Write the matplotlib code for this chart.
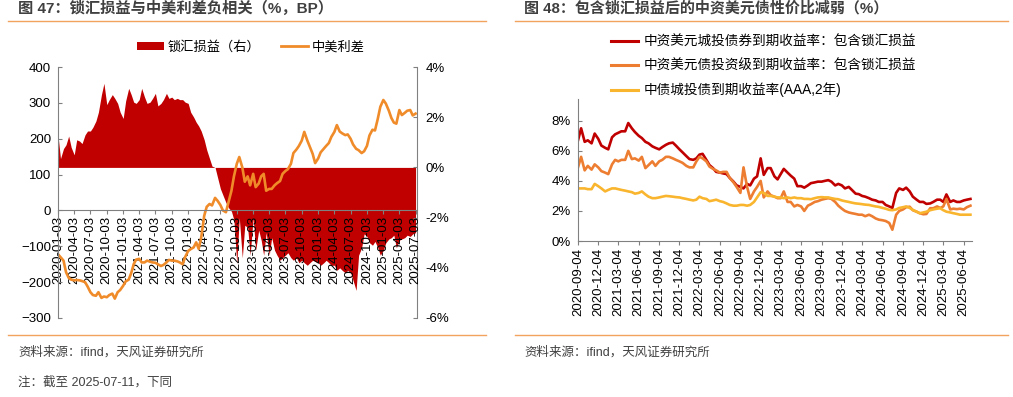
"""
图47 / 图48：锁汇损益、中美利差与中资美元债收益率
"""

import matplotlib
matplotlib.use('Agg')
import matplotlib.pyplot as plt
import pandas as pd
from matplotlib.lines import Line2D
from matplotlib.patches import Patch
from matplotlib.ticker import FuncFormatter

plt.rcParams['font.family'] = ['Liberation Sans', 'Noto Sans CJK SC']

# ========== 数据：图47（半月频，2020-01 ~ 2025-07） ==========
# 中美利差（BP，左轴）
spread_bp = [
    -122, -130, -140, -172, -188, -193, -195, -194, -195, -197, -200, -212,
    -228, -236, -238, -228, -244, -240, -242, -236, -232, -246, -228, -222,
    -210, -198, -193, -175, -150, -137, -135, -145, -145, -140, -143, -145,
    -146, -150, -155, -152, -145, -138, -140, -140, -142, -145, -150, -130,
    -113, -108, -103, -89, -107, -76, -15, 10, 18, 14, 35, 27,
    15, 0, -5, 22, 55, 95, 130, 149, 120, 80, 95, 70,
    102, 65, 75, 95, 102, 55, 60, 60, 70, 76, 82, 102,
    110, 115, 130, 160, 170, 180, 195, 219, 195, 178, 158, 132,
    145, 162, 172, 180, 188, 205, 219, 238, 220, 215, 210, 212,
    200, 184, 172, 168, 160, 165, 180, 209, 225, 223, 256, 289,
    308, 298, 278, 258, 245, 242, 280, 266, 272, 278, 280, 265,
    270,
]
# 锁汇损益（%，右轴）
hedge_pct = [
    1.28, 0.35, 0.75, 0.9, 1.25, 0.8, 0.5, 1.1, 1.05, 0.95, 1.3, 1.45,
    1.45, 1.6, 1.85, 2.2, 2.9, 3.35, 2.5, 2.7, 2.9, 2.75, 2.55, 2.2,
    1.95, 2.65, 3.15, 2.9, 2.6, 2.55, 2.7, 3.15, 2.8, 2.55, 2.6, 2.75,
    2.95, 2.45, 2.55, 2.7, 2.95, 2.75, 2.8, 2.7, 2.75, 2.7, 2.7, 2.6,
    2.55, 2.2, 2.0, 1.8, 1.65, 1.45, 1.1, 0.7, 0.35, 0.05, 0.0, -0.4,
    -0.85, -1.1, -1.4, -1.6, -1.75, -2.1, -3.85, -2.0, -3.6, -2.3, -2.4, -3.5,
    -2.0, -3.3, -2.5, -2.9, -3.5, -2.6, -3.5, -2.8, -3.3, -3.5, -3.7, -3.6,
    -3.5, -3.4, -3.6, -3.7, -3.6, -3.8, -3.7, -3.8, -3.9, -3.8, -3.7, -3.75,
    -3.8, -3.9, -3.8, -3.7, -3.8, -3.9, -3.9, -4.1, -4.0, -4.1, -4.2, -4.1,
    -4.2, -4.5, -4.9, -3.5, -3.2, -2.65, -2.75, -3.0, -3.1, -2.95, -3.2, -3.5,
    -3.3, -3.0, -2.85, -2.8, -2.7, -3.2, -2.9, -2.85, -2.8, -2.7, -2.75, -2.65,
    -2.6,
]
dates_47 = pd.date_range('2020-01-01', periods=len(spread_bp), freq='SMS') + pd.Timedelta(days=2)
ticks_47 = pd.date_range('2020-01-03', '2025-07-03', freq=pd.DateOffset(months=3))

# ========== 数据：图48（半月频，2020-09 ~ 2025-07，%） ==========
lgfv_usd = [
    6.7, 7.5, 6.6, 6.7, 6.5, 7.15, 6.8, 6.35, 6.2, 6.1, 6.9, 7.1,
    7.2, 7.3, 7.3, 7.85, 7.5, 7.25, 7.0, 6.85, 6.6, 6.5, 6.3, 6.2,
    6.1, 6.25, 6.4, 6.5, 6.55, 6.35, 6.1, 5.9, 5.65, 5.45, 5.4, 5.5,
    5.75, 5.8, 5.4, 5.05, 4.85, 4.6, 4.55, 4.5, 4.45, 4.2, 3.95, 3.7,
    3.6, 3.5, 3.8, 3.7, 4.15, 4.3, 5.5, 4.4, 4.85, 4.85, 4.3, 4.1,
    4.45, 4.8, 4.55, 4.35, 4.15, 3.65, 3.65, 3.55, 3.7, 3.85, 3.9, 3.95,
    3.95, 4.0, 4.05, 3.95, 3.7, 3.8, 3.7, 3.5, 3.6, 3.4, 3.15, 3.12,
    3.0, 2.95, 2.85, 2.75, 2.7, 2.6, 2.6, 2.4, 2.3, 2.2, 3.2, 3.5,
    3.4, 3.55, 3.3, 2.95, 2.75, 2.6, 2.6, 2.47, 2.5, 2.6, 2.75, 2.75,
    2.6, 3.1, 2.6, 2.7, 2.6, 2.6, 2.7, 2.75, 2.8,
]
ig_usd = [
    4.9, 5.6, 4.7, 5.0, 4.75, 5.1, 4.9, 4.65, 4.55, 4.45, 5.1, 5.4,
    5.3, 5.4, 5.4, 6.0, 5.45, 5.5, 5.35, 5.6, 4.85, 5.05, 5.3, 5.0,
    5.3, 5.4, 5.6, 5.6, 5.5, 5.4, 5.3, 5.2, 5.0, 4.9, 4.9, 5.3,
    5.6, 5.5, 5.3, 4.95, 4.8, 4.7, 4.55, 4.6, 4.6, 4.2, 3.9, 3.6,
    3.2, 4.9, 3.6, 2.8, 3.3, 3.6, 4.0, 2.9, 3.3, 3.05, 2.95, 2.85,
    2.85, 3.3, 2.6, 2.6, 2.3, 2.4, 2.3, 2.0, 2.35, 2.45, 2.6, 2.65,
    2.75, 2.8, 2.85, 2.8, 2.6, 2.35, 2.15, 2.0, 1.9, 1.85, 1.8, 1.75,
    1.75, 1.65, 1.75, 1.65, 1.5, 1.42, 1.38, 1.33, 1.2, 0.75, 1.75, 2.0,
    2.1, 2.25, 2.28, 2.05, 1.95, 1.85, 1.78, 1.8, 2.18, 2.18, 2.3, 2.2,
    2.3, 2.8, 2.1, 2.15, 2.12, 2.15, 2.1, 2.25, 2.35,
]
lgfv_cny = [
    3.5, 3.5, 3.5, 3.45, 3.45, 3.8, 3.65, 3.5, 3.3, 3.4, 3.5, 3.5,
    3.45, 3.4, 3.35, 3.3, 3.25, 3.15, 3.2, 3.3, 3.1, 2.95, 2.85, 2.85,
    2.9, 2.95, 3.0, 2.98, 2.95, 2.92, 2.9, 2.85, 2.8, 2.75, 2.7, 2.75,
    2.95, 2.85, 2.8, 2.65, 2.7, 2.75, 2.65, 2.6, 2.5, 2.4, 2.35, 2.35,
    2.4, 2.4, 2.35, 2.4, 2.6, 2.9, 3.25, 3.2, 3.0, 3.0, 2.95, 2.9,
    2.9, 2.85, 2.9, 2.85, 2.9, 2.85, 2.85, 2.8, 2.8, 2.78, 2.85, 2.9,
    2.92, 2.9, 2.9, 2.85, 2.8, 2.78, 2.7, 2.65, 2.6, 2.55, 2.5, 2.48,
    2.45, 2.42, 2.4, 2.35, 2.3, 2.27, 2.2, 2.15, 2.07, 2.05, 2.1, 2.2,
    2.25, 2.3, 2.2, 2.07, 1.95, 1.85, 1.9, 1.95, 2.05, 2.1, 2.15, 2.18,
    2.05, 1.95, 1.9, 1.85, 1.8, 1.75, 1.75, 1.75, 1.75,
]
dates_48 = pd.date_range('2020-09-01', periods=len(lgfv_usd), freq='SMS') + pd.Timedelta(days=3)
ticks_48 = pd.date_range('2020-09-04', '2025-06-04', freq=pd.DateOffset(months=3))

labels_48 = ['中资美元城投债券到期收益率：包含锁汇损益',
             '中资美元债投资级到期收益率：包含锁汇损益',
             '中债城投债到期收益率(AAA,2年)']

# ========== 样式 ==========
W, H = 1013, 397
RED = '#C00000'
ORANGE_L = '#F08B2A'
ORANGE_R = '#ED7D31'
YELLOW = '#F9B52E'
SPINE = '#808080'
RULE = '#F2A35E'
TXT = '#404040'

fig = plt.figure(figsize=(W / 100, H / 100), dpi=100)


def fx(px):
    return px / W


def fy(py):
    return 1 - py / H


# ========== 图47 ==========
ax1 = fig.add_axes([fx(58), fy(318), fx(417) - fx(58), fy(67) - fy(318)])
ax2 = ax1.twinx()
ax1.set_zorder(ax2.get_zorder() + 1)
ax1.patch.set_visible(False)
ax1.spines['bottom'].set_position(('data', 0))

ax2.fill_between(dates_47, 0, hedge_pct, color=RED, lw=0)
ax1.plot(dates_47, spread_bp, color=ORANGE_L, lw=1.9)

ax1.set_ylim(-300, 400)
ax1.set_yticks(range(-300, 401, 100))
ax2.set_ylim(-6, 4)
ax2.set_yticks(range(-6, 5, 2))
ax2.yaxis.set_major_formatter(FuncFormatter(lambda v, p: f'{v:.0f}%'))
ax1.set_xlim(pd.Timestamp('2020-01-03'), pd.Timestamp('2025-07-11'))

ax1.set_xticks(ticks_47)
ax1.set_xticklabels([d.strftime('%Y-%m-%d') for d in ticks_47])
for s in ['top', 'right']:
    ax1.spines[s].set_visible(False)
for s in ['top', 'left', 'bottom']:
    ax2.spines[s].set_visible(False)
for sp in [ax1.spines['left'], ax1.spines['bottom'], ax2.spines['right']]:
    sp.set_color(SPINE)
ax1.tick_params(axis='y', direction='in', length=3, color=SPINE, labelsize=9.5, pad=5)
ax2.tick_params(axis='y', direction='in', length=3, color=SPINE, labelsize=9.5, pad=6)
ax1.tick_params(axis='x', direction='out', length=3, color=SPINE, pad=1,
                labelrotation=90, labelsize=9.5)

h47 = [Patch(facecolor=RED, edgecolor='none'), Line2D([], [], color=ORANGE_L, lw=2)]
fig.legend(h47, ['锁汇损益（右）', '中美利差'], loc='center',
           bbox_to_anchor=(fx(251), fy(47)), ncol=2, frameon=False, fontsize=9.5,
           handlelength=2.0, handleheight=0.6, handletextpad=0.3, columnspacing=1.6,
           borderpad=0, borderaxespad=0)

# ========== 图48 ==========
ax3 = fig.add_axes([fx(578), fy(241), fx(972) - fx(578), fy(99) - fy(241)])
for vals, c in zip([lgfv_usd, ig_usd, lgfv_cny], [RED, ORANGE_R, YELLOW]):
    ax3.plot(dates_48, vals, color=c, lw=1.9)
ax3.set_ylim(0, 9.45)
ax3.set_yticks(range(0, 9, 2))
ax3.yaxis.set_major_formatter(FuncFormatter(lambda v, p: f'{v:.0f}%'))
ax3.set_xlim(pd.Timestamp('2020-09-04'), pd.Timestamp('2025-07-11'))
ax3.set_xticks(ticks_48)
ax3.set_xticklabels([d.strftime('%Y-%m-%d') for d in ticks_48])
for s in ['top', 'right']:
    ax3.spines[s].set_visible(False)
for s in ['left', 'bottom']:
    ax3.spines[s].set_color(SPINE)
ax3.tick_params(axis='y', direction='in', length=3, color=SPINE, labelsize=9.5, pad=5)
ax3.tick_params(axis='x', direction='out', length=3, color=SPINE, pad=2,
                labelrotation=90, labelsize=9.5)

h48 = [Line2D([], [], color=c, lw=2.2) for c in [RED, ORANGE_R, YELLOW]]
fig.legend(h48, labels_48, loc='upper left', bbox_to_anchor=(fx(611), fy(35)),
           frameon=False, fontsize=9.8, handlelength=2.0, handletextpad=0.4,
           labelspacing=0.72, borderpad=0, borderaxespad=0)

# ========== 标题、分隔线与注释 ==========
fig.text(fx(18), fy(8), '图 47：锁汇损益与中美利差负相关（%，BP）',
         fontsize=11, fontweight='bold', color=TXT, va='center')
fig.text(fx(524), fy(8), '图 48：包含锁汇损益后的中资美元债性价比减弱（%）',
         fontsize=10.8, fontweight='bold', color=TXT, va='center')
for x0, x1 in [(8, 486), (515, 1008)]:
    for yy in [21, 335]:
        fig.add_artist(Line2D([fx(x0), fx(x1)], [fy(yy), fy(yy)], color=RULE, lw=1))

fig.text(fx(18), fy(352), '资料来源：ifind，天风证券研究所', fontsize=9, color=TXT, va='center')
fig.text(fx(18), fy(382), '注：截至 2025-07-11，下同', fontsize=9, color=TXT, va='center')
fig.text(fx(524), fy(352), '资料来源：ifind，天风证券研究所', fontsize=9, color=TXT, va='center')

plt.savefig('out.png', dpi=100)
plt.close()
